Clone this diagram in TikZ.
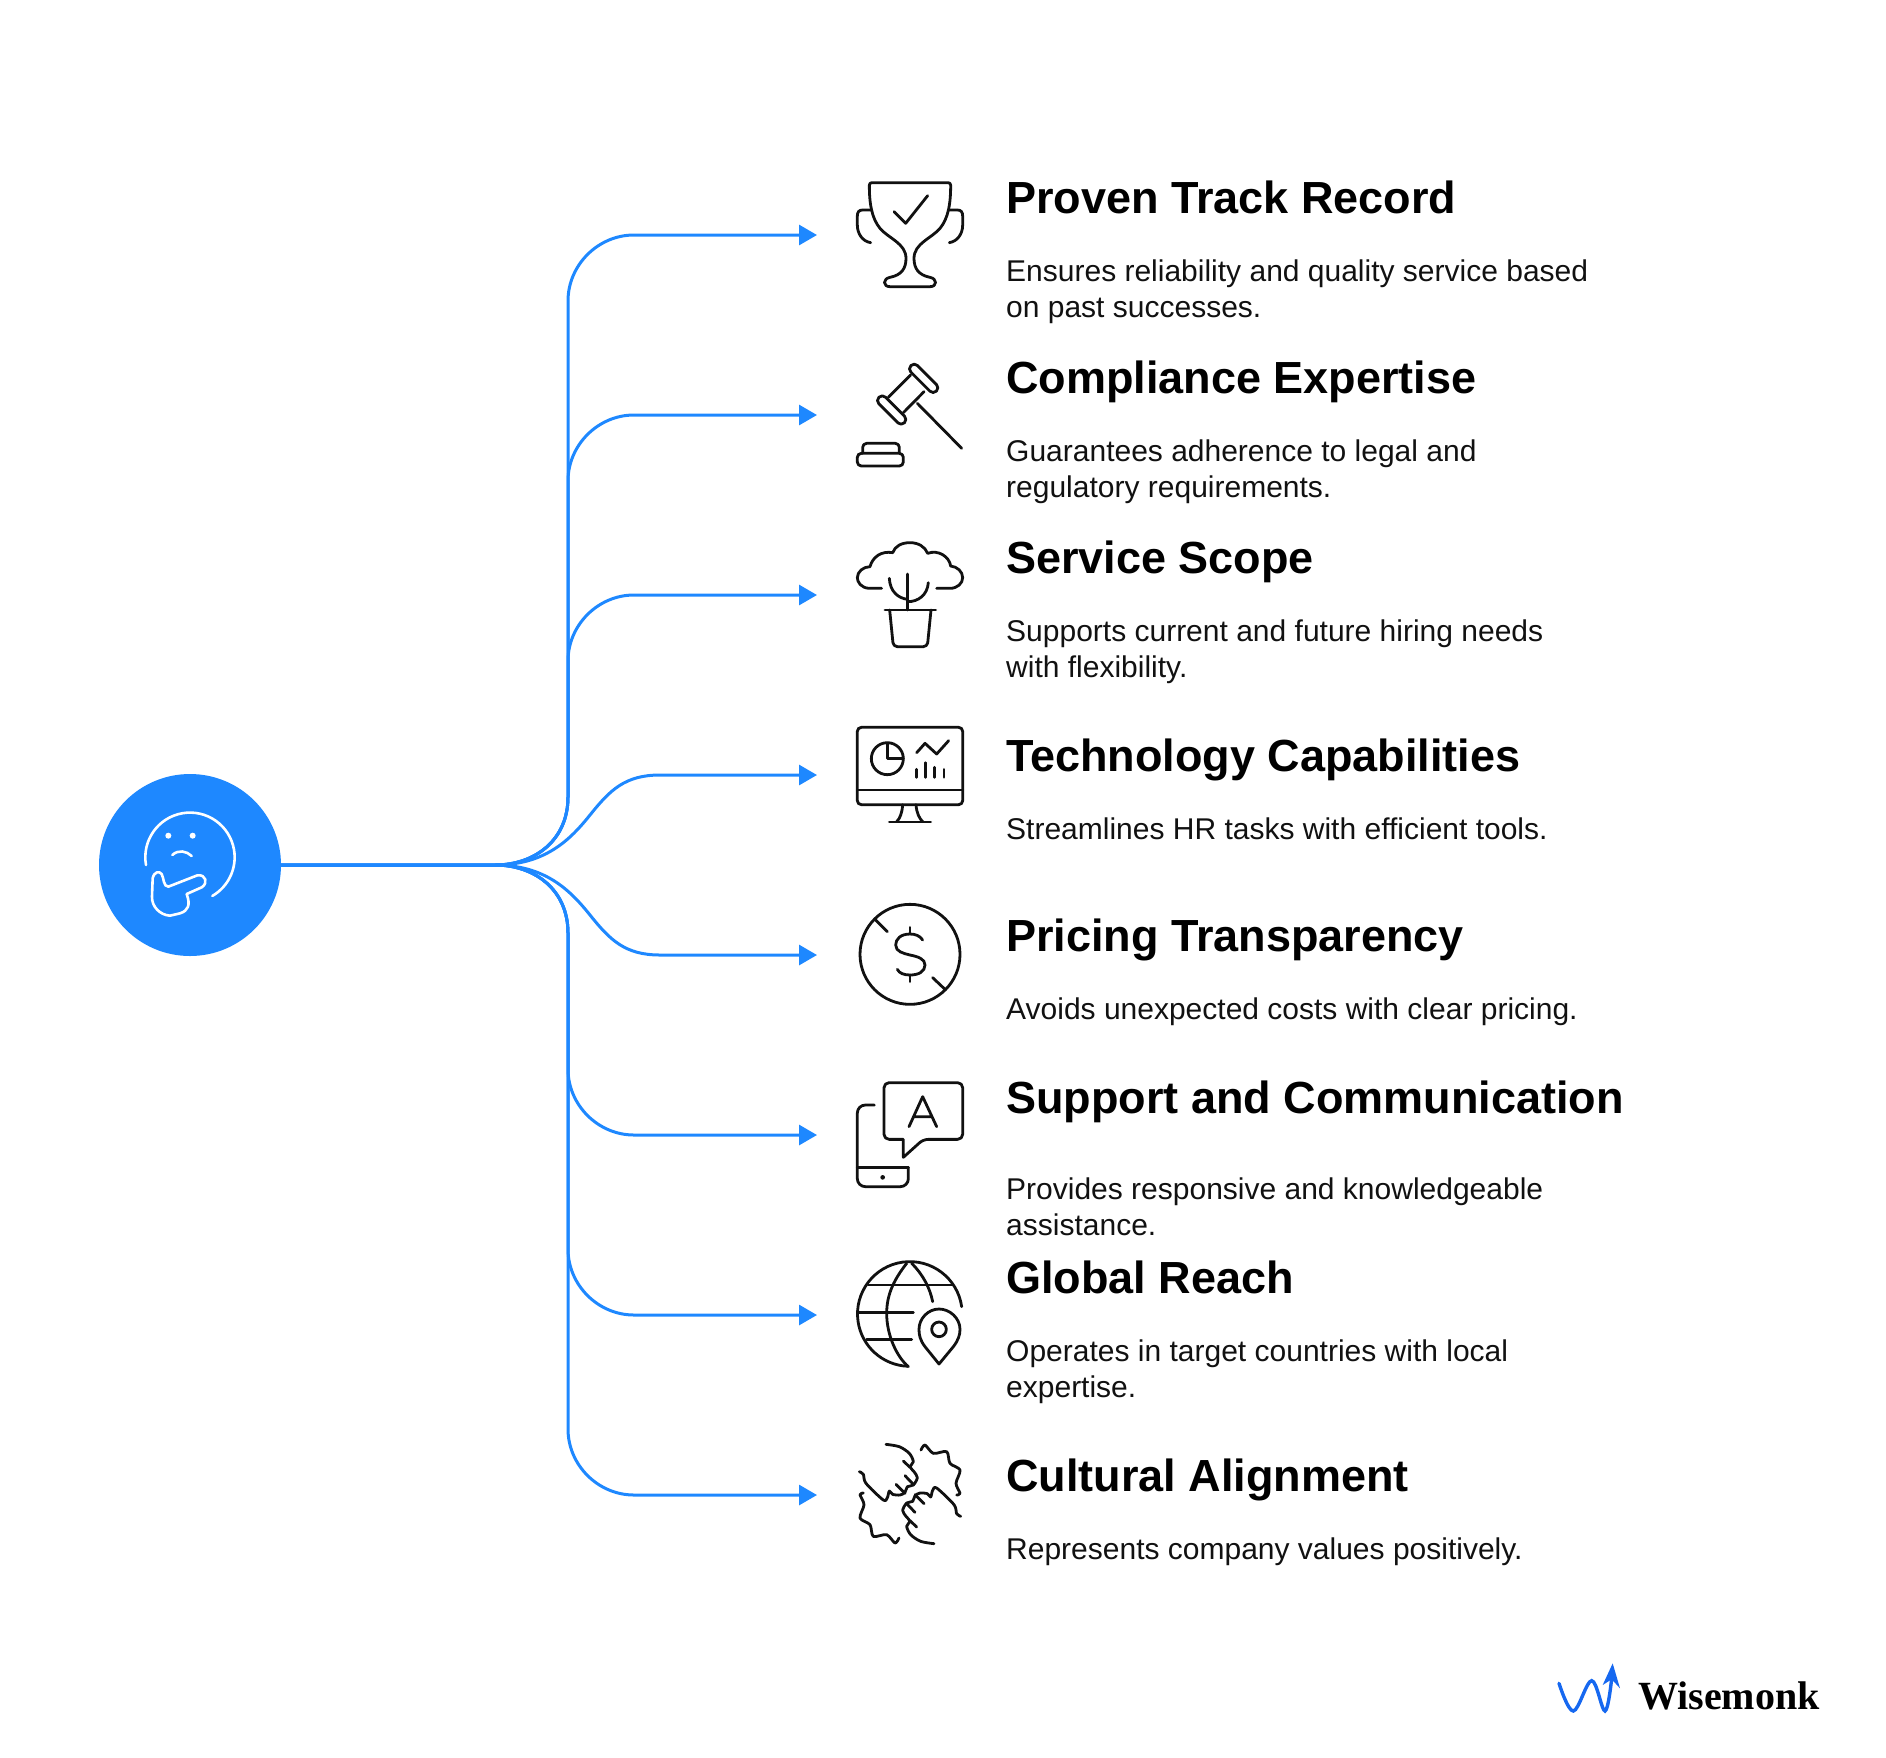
\documentclass[tikz,border=0pt]{standalone}
\usepackage{fontspec}
\setmainfont{Liberation Sans}
\newfontfamily\logofont{Liberation Serif}
\usepackage{xcolor}
\usetikzlibrary{arrows.meta,positioning}
\definecolor{accent}{HTML}{1E88FF}
\definecolor{logoblue}{HTML}{1668F0}
\definecolor{ink}{HTML}{111111}

\begin{document}
\begin{tikzpicture}[
  x=1pt,y=-1pt,
  ttl/.style={anchor=base west,inner sep=0pt,font=\fontsize{45}{54}\selectfont\bfseries,text=black},
  dsc/.style={anchor=base west,inner sep=0pt,font=\fontsize{30}{36}\selectfont,text=ink,align=left},
  conn/.style={-{Triangle[length=18pt,width=20pt]},draw=accent,line width=3pt},
  ico/.style={draw=ink,line width=2.8pt,line cap=round,line join=round},
  zoomed/.style={shift={(840,#1)},scale=1/3}
]
\useasboundingbox (0,0) rectangle (1886,1757);
\node[circle,fill=accent,minimum size=182pt,inner sep=0pt] (hub) at (190,865) {};
\coordinate (fork) at (495,865);

% connectors
\foreach \n/\yy in {1/235,2/415,3/595,6/1135,7/1315,8/1495}{
  \coordinate (tip\n) at (817,\yy);
  \pgfmathsetmacro\sgn{\yy<865 ? 1 : -1}
  \draw[conn] (hub.east) -- (fork) .. controls (535,865) and (568,865-\sgn*25) .. (568,865-\sgn*68)
    -- (568,\yy+\sgn*66) .. controls (568,\yy+\sgn*30) and (598,\yy) .. (634,\yy) -- (tip\n);
}
\coordinate (tip4) at (817,775);
\coordinate (tip5) at (817,955);
\draw[conn] (fork) .. controls (545,865) and (570,840) .. (590,815) .. controls (610,790) and (625,775) .. (660,775) -- (tip4);
\draw[conn] (fork) .. controls (545,865) and (570,890) .. (590,915) .. controls (610,940) and (625,955) .. (660,955) -- (tip5);

% texts
\foreach \n/\ty/\dy/\tt/\dd in {
  a/213/317/Proven Track Record/{Ensures reliability and quality service based\\on past successes.},
  b/393/497/Compliance Expertise/{Guarantees adherence to legal and\\regulatory requirements.},
  c/573/677/Service Scope/{Supports current and future hiring needs\\with flexibility.},
  d/771/839/Technology Capabilities/{Streamlines HR tasks with efficient tools.},
  e/951/1019/Pricing Transparency/{Avoids unexpected costs with clear pricing.},
  f/1113/1235/Support and Communication/{Provides responsive and knowledgeable\\assistance.},
  g/1293/1397/Global Reach/{Operates in target countries with local\\expertise.},
  h/1491/1559/Cultural Alignment/{Represents company values positively.}}{
  \node[ttl] (ttl\n) at (1006,\ty) {\tt};
  \node[dsc] (dsc\n) at (1006,\dy) {\dd};
}

% thinking face
\begin{scope}[shift={(80,750)},scale=1/3,draw=white,line width=2.6pt,line cap=round,line join=round]
\draw (198,345) arc[start angle=190,end angle=-60,radius=134pt];
\fill[white] (265,257) circle (9) (338,257) circle (9);
\draw (277,315) .. controls (295,298) and (320,303) .. (335,318);
\draw (218,385) -- (216,440) .. controls (215,470) and (240,495) .. (270,497) -- (300,490)
  .. controls (325,482) and (332,465) .. (320,432) -- (365,412) .. controls (385,400) and (378,372) .. (352,376)
  -- (265,410) .. controls (250,410) and (252,385) .. (245,372) .. controls (238,362) and (222,365) .. (218,385) -- cycle;
\end{scope}

% trophy
\begin{scope}[zoomed=160]
\draw[ico] (88,76) .. controls (88,70) and (91,68) .. (96,68) -- (324,68) .. controls (329,68) and (332,70) .. (332,76)
  .. controls (332,130) and (325,175) .. (300,205) .. controls (275,235) and (222,250) .. (222,295)
  .. controls (222,325) and (235,345) .. (270,352) .. controls (292,356) and (292,380) .. (270,380) -- (150,380)
  .. controls (128,380) and (128,356) .. (150,352) .. controls (185,345) and (198,325) .. (198,295)
  .. controls (198,250) and (145,235) .. (120,205) .. controls (95,175) and (88,130) .. (88,76) -- cycle;
\draw[ico] (162,155) -- (197,190) -- (263,107);
\draw[ico] (95,150) -- (68,150) .. controls (57,150) and (52,156) .. (52,168) -- (52,195) .. controls (52,222) and (68,244) .. (92,248);
\draw[ico] (325,150) -- (352,150) .. controls (363,150) and (368,156) .. (368,168) -- (368,195) .. controls (368,222) and (352,244) .. (328,248);
\end{scope}

% gavel
\begin{scope}[zoomed=160]
\draw[ico,rotate around={-45:(251,655)},rounded corners=4.5pt] (197,641) rectangle (305,669);
\draw[ico,rotate around={-45:(155,750)},rounded corners=4.5pt] (101,736) rectangle (209,764);
\draw[ico] (212,645) -- (145,712) (252,695) -- (190,758) (232,730) -- (365,865);
\draw[ico,rounded corners=4pt] (68,880) -- (68,850) -- (178,850) -- (178,880);
\draw[ico,rounded corners=4pt] (52,880) rectangle (190,918);
\end{scope}

% plant
\begin{scope}[zoomed=530]
\draw[ico] (125,175) -- (90,175) .. controls (62,175) and (52,155) .. (52,143) .. controls (52,125) and (70,110) .. (90,110)
  .. controls (98,80) and (125,62) .. (158,68) .. controls (165,48) and (185,38) .. (210,38) .. controls (235,38) and (255,50) .. (263,70)
  .. controls (295,58) and (328,80) .. (332,108) .. controls (352,110) and (368,125) .. (368,143) .. controls (368,160) and (352,175) .. (330,175) -- (290,175);
\draw[ico] (203,132) -- (203,240);
\draw[ico] (148,145) .. controls (150,185) and (175,205) .. (203,208);
\draw[ico] (265,158) .. controls (262,195) and (235,215) .. (203,215);
\draw[ico] (135,240) -- (287,240);
\draw[ico,rounded corners=4pt] (149,240) -- (160,350) -- (262,350) -- (273,240);
\end{scope}

% monitor
\begin{scope}[zoomed=530]
\draw[ico,rounded corners=4pt] (52,592) rectangle (368,824);
\draw[ico] (52,780) -- (368,780);
\draw[ico] (188,824) .. controls (186,850) and (180,865) .. (170,875);
\draw[ico] (228,824) .. controls (230,850) and (238,865) .. (248,875);
\draw[ico] (148,876) -- (272,876);
\draw[ico] (142,686) circle (48);
\draw[ico] (142,640) -- (142,686) -- (190,686);
\draw[ico] (230,668) -- (255,640) -- (290,672) -- (326,632);
\draw[ico] (230,718) -- (230,742) (256,698) -- (256,742) (284,712) -- (284,742) (312,718) -- (312,742);
\end{scope}

% dollar
\begin{scope}[zoomed=890]
\draw[ico] (210,193) circle (150);
\draw[ico] (105,88) -- (142,125) (278,263) -- (315,298);
\draw[ico] (210,112) -- (210,132) (210,255) -- (210,275);
\draw[ico] (248,150) .. controls (240,137) and (225,132) .. (210,132) .. controls (182,132) and (167,147) .. (167,165)
  .. controls (167,185) and (190,190) .. (210,195) .. controls (235,200) and (255,207) .. (255,225)
  .. controls (255,245) and (235,255) .. (210,255) .. controls (192,255) and (178,250) .. (172,238);
\end{scope}

% phone and bubble
\begin{scope}[zoomed=890]
\draw[ico] (190,802) -- (190,748) [rounded corners=5pt] -- (132,748) -- (132,578) -- (368,578) -- (368,748) -- (250,748) [sharp corners] -- cycle;
\draw[ico] (207,710) -- (248,620) -- (290,710) (222,680) -- (276,680);
\draw[ico,rounded corners=8pt] (103,645) -- (52,645) -- (52,890) -- (205,890) -- (205,832);
\draw[ico] (52,832) -- (205,832);
\fill[ink] (128,862) circle (7);
\end{scope}

% globe and pin
\begin{scope}[zoomed=1250]
\draw[ico] (365,170) arc[start angle=8,end angle=268,radius=157pt];
\draw[ico] (85,105) -- (335,105) (55,187) -- (220,187) (80,268) -- (215,268);
\draw[ico] (200,40) .. controls (165,85) and (140,130) .. (140,190) .. controls (140,255) and (170,320) .. (205,350);
\draw[ico] (215,40) .. controls (250,75) and (270,115) .. (278,155);
\draw[ico] (297,238) circle (22);
\draw[ico] (297,342) -- (255,290) .. controls (240,270) and (237,255) .. (237,238) .. controls (237,205) and (265,177) .. (297,177)
  .. controls (330,177) and (360,205) .. (360,238) .. controls (360,255) and (355,270) .. (340,290) -- cycle;
\end{scope}

% hands
\begin{scope}[zoomed=1250]
\foreach \a in {0,180}{
  \begin{scope}[rotate around={\a:(210,732)}]
  \draw[ico] plot[smooth,tension=0.5] coordinates {(138,583) (178,590) (208,610) (220,635) (210,650) (222,665) (232,683) (220,705) (202,710) (195,727) (180,735) (158,733) (148,723) (142,743) (130,750) (78,700) (70,673) (58,665)};
  \draw[ico] (190,633) -- (210,652) (195,677) -- (220,703) (168,703) -- (195,730);
  \draw[ico] plot[smooth,tension=0.5] coordinates {(243,600) (255,585) (280,610) (320,605) (330,640) (360,660) (348,700) (360,730) (350,735)};
  \end{scope}
}
\end{scope}

% logo
\begin{scope}[shift={(1540,1640)},scale=1/3]
\draw[logoblue,line width=3.4pt,line cap=round] plot[smooth,tension=0.6] coordinates {(57,130) (100,213) (155,122) (195,213) (215,115)};
\fill[logoblue] (218,70) -- (188,135) -- (215,118) -- (240,145) -- cycle;
\end{scope}
\node[anchor=base west,inner sep=0pt,font=\fontsize{40}{46}\selectfont\logofont\bfseries,text=black] (logo) at (1638,1709) {Wisemonk};
\end{tikzpicture}
\end{document}
